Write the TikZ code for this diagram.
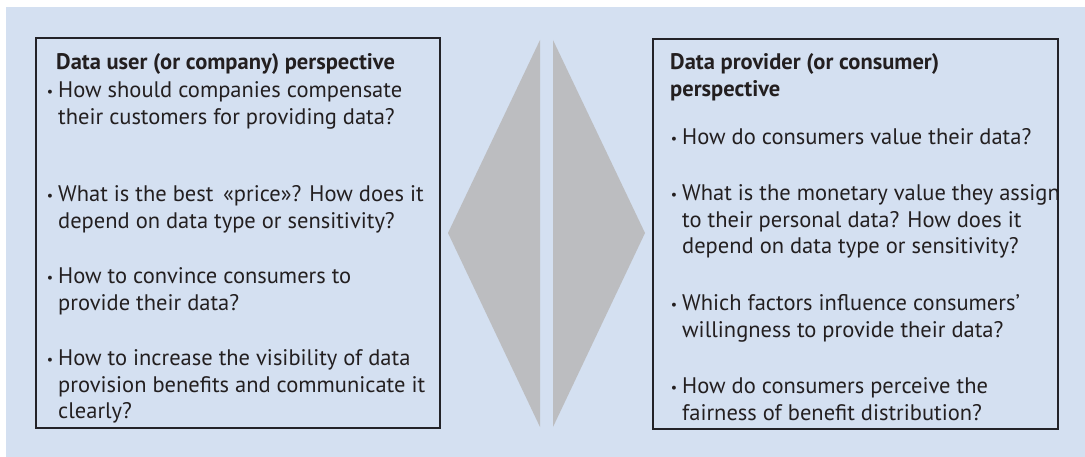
\documentclass[tikz,border=0pt]{standalone}
\usepackage{fontspec}
\setmainfont{PT Sans}
\usetikzlibrary{positioning}

\definecolor{bgblue}{RGB}{212,224,241}
\definecolor{wedgegray}{RGB}{188,189,192}
\definecolor{boxline}{RGB}{35,35,40}
\definecolor{textgray}{RGB}{35,31,32}

\newcommand{\qfont}{\fontsize{22.5}{26.5}\selectfont}
\newcommand{\bul}{\llap{\raisebox{1.5pt}{\fontsize{14}{14}\selectfont\textbullet}\hspace{5pt}}}

\tikzset{
  qbox/.style={draw=boxline, line width=2.6pt},
  wedge/.style={fill=wedgegray, draw=none},
  head/.style={anchor=north west, inner sep=0pt, align=left, font=\bfseries\qfont, text=textgray},
  item/.style={anchor=north west, inner sep=0pt, align=left, font=\qfont, text=textgray},
}

\begin{document}
\begin{tikzpicture}[x=1pt,y=-1pt]
  \useasboundingbox (0,0) rectangle (1085,457);
  \fill[bgblue] (6,7) rectangle (1085,457);

  % the two boxes
  \draw[qbox] (36,38) rectangle (440,428);
  \draw[qbox] (653,39) rectangle (1058,429);

  % split diamond in between
  \fill[wedge] (448,233) -- (540,40) -- (540,427) -- cycle;
  \fill[wedge] (553,40) -- (645,233) -- (553,427) -- cycle;

  % left: data user
  \node[head] (userhead) at (56,51) {\strut Data user (or company) perspective};
  \node[item] (user1) at (58,79) {\strut\bul How should companies compensate\\their customers for providing data?};
  \node[item] (user2) at (58,183) {\strut\bul What is the best \,«price»? How does it\\depend on data type or sensitivity?};
  \node[item] (user3) at (58,265) {\strut\bul How to convince consumers to\\provide their data?};
  \node[item] (user4) at (58,347) {\strut\bul How to increase the visibility of data\\provision benefits and communicate it\\clearly?};

  % right: data provider
  \node[head] (provhead) at (670,51) {\strut Data provider (or consumer)\\perspective};
  \node[item] (prov1) at (682,126) {\strut\bul How do consumers value their data?};
  \node[item] (prov2) at (682,182) {\strut\bul What is the monetary value they assign\\to their personal data? How does it\\depend on data type or sensitivity?};
  \node[item] (prov3) at (682,292) {\strut\bul Which factors influence consumers’\\willingness to provide their data?};
  \node[item] (prov4) at (682,375) {\strut\bul How do consumers perceive the\\fairness of benefit distribution?};
\end{tikzpicture}
\end{document}
